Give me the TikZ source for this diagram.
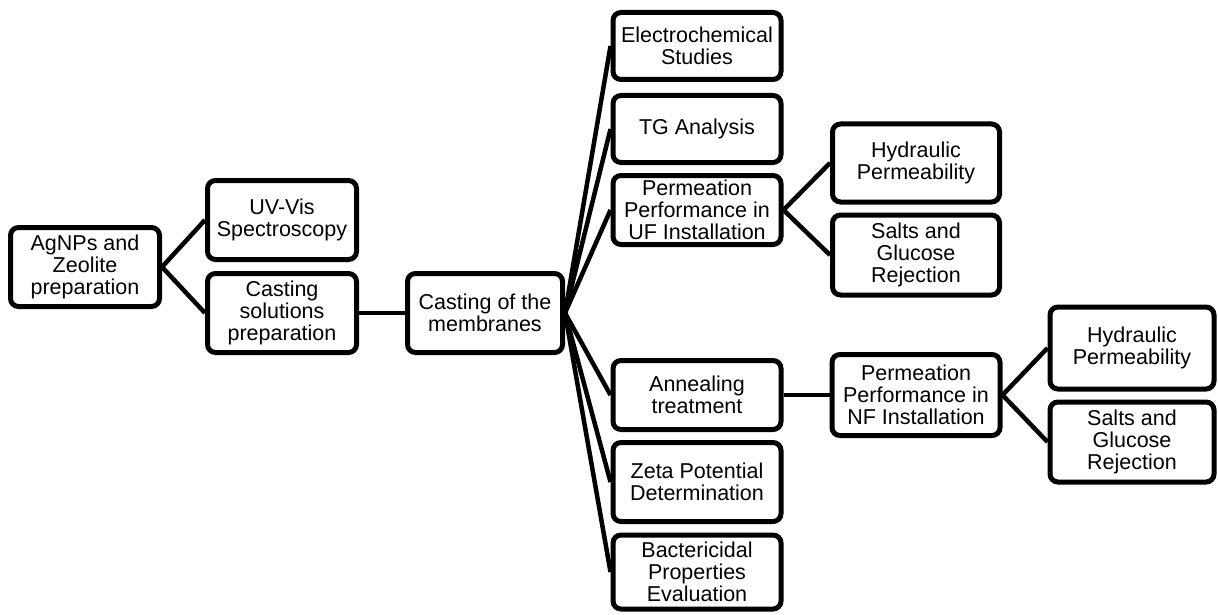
\documentclass[tikz,border=0pt]{standalone}
\usepackage{fontspec}
\setmainfont{Liberation Sans}
\usetikzlibrary{positioning}
\tikzset{
  box/.style={draw,line width=5pt,rounded corners=8pt,align=center,inner sep=0pt,
    font=\fontsize{21.5}{22}\selectfont},
  link/.style={line width=4.5pt}
}

\begin{document}
\begin{tikzpicture}[x=1pt,y=-1pt]
  \useasboundingbox (0,0) rectangle (1218,615);
  % preparation
  \node[box,minimum width=149,minimum height=79] (agnp) at (85,267) {AgNPs and\\Zeolite\\preparation};
  \node[box,minimum width=149,minimum height=79] (uvvis) at (282,220) {UV-Vis\\Spectroscopy};
  \node[box,minimum width=149,minimum height=79] (solut) at (282,313) {Casting\\solutions\\preparation};
  \node[box,minimum width=155,minimum height=79] (memb) at (485,313) {Casting of the\\membranes};
  % characterisation
  \node[box,minimum width=168,minimum height=67] (elec) at (697,46) {Electrochemical\\Studies};
  \node[box,minimum width=168,minimum height=67] (tga) at (697,129) {TG Analysis};
  \node[box,minimum width=168,minimum height=69] (permuf) at (697,210) {Permeation\\Performance in\\UF Installation};
  \node[box,minimum width=168,minimum height=69] (anneal) at (697,395) {Annealing\\treatment};
  \node[box,minimum width=168,minimum height=79] (zeta) at (697,482) {Zeta Potential\\Determination};
  \node[box,minimum width=168,minimum height=74] (bact) at (697,572) {Bactericidal\\Properties\\Evaluation};
  % UF results
  \node[box,minimum width=167,minimum height=78] (hydruf) at (916,163) {Hydraulic\\Permeability};
  \node[box,minimum width=167,minimum height=80] (saltuf) at (916,255) {Salts and\\Glucose\\Rejection};
  % NF branch
  \node[box,minimum width=168,minimum height=81] (permnf) at (916,395) {Permeation\\Performance in\\NF Installation};
  \node[box,minimum width=164,minimum height=82] (hydrnf) at (1132,348) {Hydraulic\\Permeability};
  \node[box,minimum width=164,minimum height=80] (saltnf) at (1132,442) {Salts and\\Glucose\\Rejection};
  % connectors
  \draw[link] (agnp.east) -- (uvvis.west);
  \draw[link] (agnp.east) -- (solut.west);
  \draw[link] (solut.east) -- (memb.west);
  \foreach \t in {elec,tga,permuf,anneal,zeta,bact}
    \draw[link] (memb.east) -- (\t.west);
  \draw[link] (permuf.east) -- (hydruf.west);
  \draw[link] (permuf.east) -- (saltuf.west);
  \draw[link] (anneal.east) -- (permnf.west);
  \draw[link] (permnf.east) -- (hydrnf.west);
  \draw[link] (permnf.east) -- (saltnf.west);
\end{tikzpicture}
\end{document}
